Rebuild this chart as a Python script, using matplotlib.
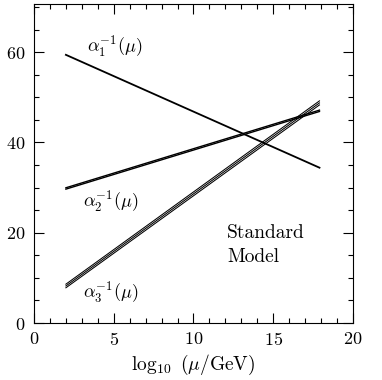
import numpy as np
import matplotlib
matplotlib.use('Agg')
import matplotlib.pyplot as plt
from matplotlib.ticker import MultipleLocator

# Inverse couplings at the two ends of the running
x_ends = [2.0, 17.9]
alpha1_inv = [59.4, 34.4]
alpha2_inv_lo = [29.65, 46.85]
alpha2_inv_hi = [29.95, 47.15]
alpha3_inv_lo = [7.8, 48.3]
alpha3_inv_mid = [8.2, 48.75]
alpha3_inv_hi = [8.6, 49.2]

plt.rcParams['font.family'] = ['cmr10', 'DejaVu Serif']
plt.rcParams['mathtext.fontset'] = 'cm'
plt.rcParams['axes.formatter.use_mathtext'] = True

fig = plt.figure(figsize=(3.82, 3.80), dpi=100)
ax = fig.add_axes([0.089, 0.15, 0.835, 0.84])

ax.plot(x_ends, alpha1_inv, color='black', lw=1.3)
for y in (alpha2_inv_lo, alpha2_inv_hi):
    ax.plot(x_ends, y, color='black', lw=1.0)
for y in (alpha3_inv_lo, alpha3_inv_mid, alpha3_inv_hi):
    ax.plot(x_ends, y, color='black', lw=0.75)

ax.text(3.3, 61, r'$\alpha_1^{-1}(\mu)$', fontsize=13, va='center')
ax.text(3.1, 26.8, r'$\alpha_2^{-1}(\mu)$', fontsize=13, va='center')
ax.text(3.1, 6.6, r'$\alpha_3^{-1}(\mu)$', fontsize=13, va='center')
ax.text(12.1, 19.9, 'Standard', fontsize=14, va='center')
ax.text(12.1, 14.6, 'Model', fontsize=14, va='center')

ax.set_xlim(0, 20)
ax.set_ylim(0, 70.7)
ax.xaxis.set_major_locator(MultipleLocator(5))
ax.xaxis.set_minor_locator(MultipleLocator(1))
ax.yaxis.set_major_locator(MultipleLocator(20))
ax.yaxis.set_minor_locator(MultipleLocator(5))
ax.tick_params(which='both', direction='in', top=True, right=True, width=0.8)
ax.tick_params(which='major', length=7, labelsize=13, pad=6)
ax.tick_params(which='minor', length=3.5)
for s in ax.spines.values():
    s.set_linewidth(0.8)

ax.set_xlabel(r'$\log_{10}\ (\mu/\mathrm{GeV})$', fontsize=14, labelpad=3)

plt.savefig('out.png', dpi=100)
